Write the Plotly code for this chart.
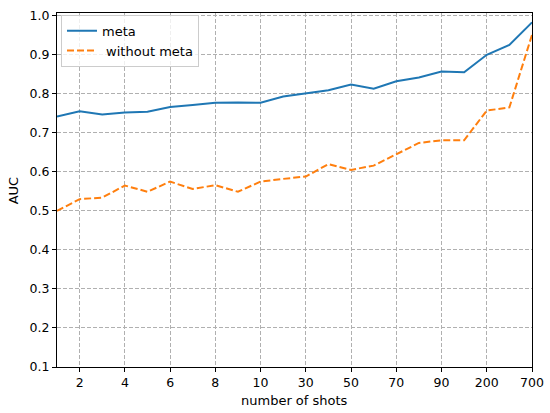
import plotly.graph_objects as go

shots = [1, 2, 3, 4, 5, 6, 7, 8, 9, 10, 20, 30, 40, 50, 60, 70, 80, 90, 100, 200, 500, 700]
meta = [0.742, 0.755, 0.747, 0.752, 0.754, 0.766, 0.771, 0.777, 0.778, 0.777, 0.793,
        0.801, 0.809, 0.824, 0.813, 0.832, 0.842, 0.857, 0.855, 0.900, 0.925, 0.983]
without_meta = [0.500, 0.530, 0.534, 0.565, 0.549, 0.575, 0.556, 0.566, 0.549, 0.575, 0.582,
                0.588, 0.620, 0.605, 0.616, 0.646, 0.674, 0.681, 0.681, 0.757, 0.765, 0.951]
tick_labels = ["2", "4", "6", "8", "10", "30", "50", "70", "90", "200", "700"]
y_ticks = [0.1, 0.2, 0.3, 0.4, 0.5, 0.6, 0.7, 0.8, 0.9, 1.0]

idx = list(range(len(shots)))
tick_idx = [shots.index(int(t)) for t in tick_labels]

fig = go.Figure()
fig.add_trace(go.Scatter(x=idx, y=meta, mode="lines", name="meta",
                         line=dict(color="#1f77b4", width=2)))
fig.add_trace(go.Scatter(x=idx, y=without_meta, mode="lines", name=" without meta",
                         line=dict(color="#ff7f0e", width=2, dash="7px,3px")))

tick_font = dict(family="DejaVu Sans", size=12.5, color="black")
label_font = dict(family="DejaVu Sans", size=13, color="black")
fig.update_layout(
    width=550, height=413,
    margin=dict(l=57, r=18, t=13, b=46, autoexpand=False),
    paper_bgcolor="white", plot_bgcolor="white",
    font=tick_font,
    showlegend=True,
    legend=dict(x=0.0084, y=0.995, xanchor="left", yanchor="top",
                bgcolor="rgba(255,255,255,0.8)", bordercolor="#cccccc", borderwidth=1,
                font=label_font),
    annotations=[
        dict(text="number of shots", xref="paper", yref="paper", x=0.5, y=-0.095,
             xanchor="center", yanchor="middle", showarrow=False, font=label_font),
        dict(text="AUC", xref="paper", yref="paper", x=-0.092, y=0.5, textangle=-90,
             xanchor="center", yanchor="middle", showarrow=False, font=label_font),
    ],
)
fig.update_xaxes(
    range=[0, len(shots) - 1], automargin=False,
    tickmode="array", tickvals=tick_idx, ticktext=tick_labels,
    showline=True, linecolor="black", linewidth=1.2, mirror=True,
    ticks="outside", ticklen=4, tickcolor="black",
    showgrid=True, gridcolor="#b0b0b0", griddash="4px,2px", gridwidth=0.8,
    zeroline=False,
)
fig.update_yaxes(
    range=[0.1, 1.007], automargin=False,
    tickmode="array", tickvals=y_ticks, ticktext=[f"{v:.1f}" for v in y_ticks],
    showline=True, linecolor="black", linewidth=1.2, mirror=True,
    ticks="outside", ticklen=4, tickcolor="black",
    showgrid=True, gridcolor="#b0b0b0", griddash="4px,2px", gridwidth=0.8,
    zeroline=False,
)
fig.write_html("out.html", config={"displayModeBar": False},
               post_script="document.body.style.margin='0';document.body.style.padding='0';")
